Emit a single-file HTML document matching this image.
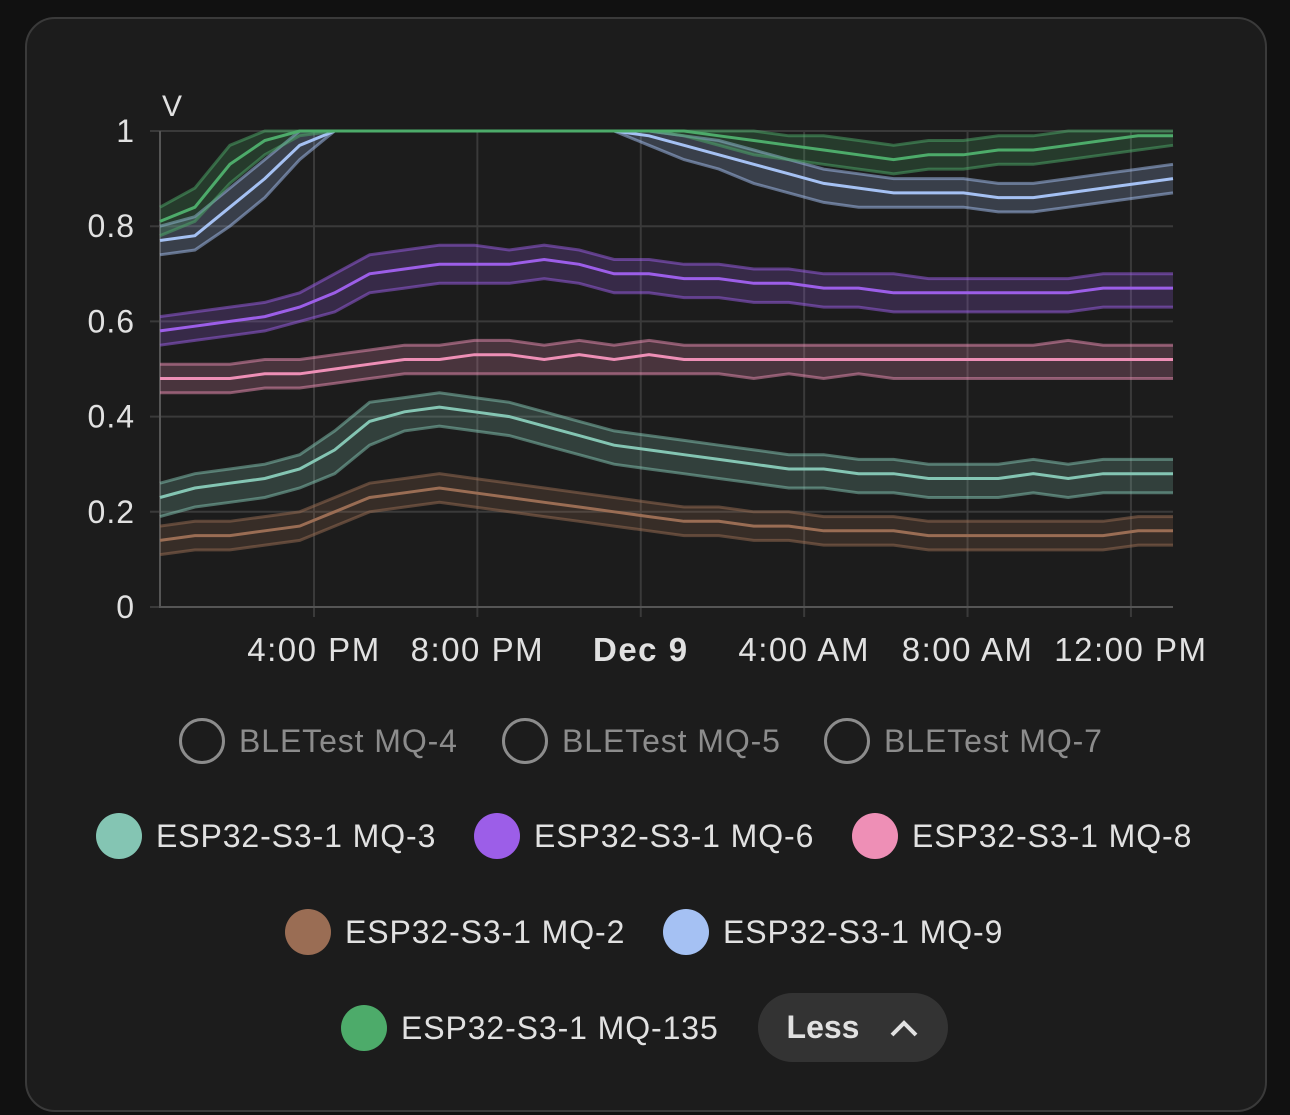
<!DOCTYPE html>
<html><head><meta charset="utf-8">
<style>
html,body{margin:0;padding:0;background:#111;width:1290px;height:1115px;overflow:hidden;font-family:"Liberation Sans",sans-serif;}
#card{position:absolute;left:25px;top:17px;width:1238px;height:1091px;border:2px solid #3a3a3a;border-radius:30px;background:#1c1c1c;}
svg{position:absolute;left:0;top:0;}
.leg{position:absolute;display:flex;align-items:center;font-size:32px;letter-spacing:0.9px;color:#e1e1e1;white-space:nowrap;}
.dot{width:46px;height:46px;border-radius:50%;margin-right:14px;box-sizing:border-box;}
.off{color:#8c8c8c}
.off .dot{border:3px solid #8c8c8c;background:transparent;margin-right:14px;}
#less{position:absolute;left:758px;top:993px;width:190px;height:69px;border-radius:35px;background:#333;color:#e1e1e1;font-size:32px;font-weight:bold;display:flex;align-items:center;justify-content:center;gap:30px;}
</style></head><body>
<div id="card"></div>
<svg id="chart" width="1290" height="1115"></svg>

<div class="leg off" style="left:179px;top:718px"><div class="dot"></div>BLETest MQ-4</div>
<div class="leg off" style="left:502px;top:718px"><div class="dot"></div>BLETest MQ-5</div>
<div class="leg off" style="left:824px;top:718px"><div class="dot"></div>BLETest MQ-7</div>
<div class="leg" style="left:96px;top:813px"><div class="dot" style="background:#84c5b3"></div>ESP32-S3-1 MQ-3</div>
<div class="leg" style="left:474px;top:813px"><div class="dot" style="background:#9c5ee8"></div>ESP32-S3-1 MQ-6</div>
<div class="leg" style="left:852px;top:813px"><div class="dot" style="background:#ee8fb6"></div>ESP32-S3-1 MQ-8</div>
<div class="leg" style="left:285px;top:909px"><div class="dot" style="background:#9a6d54"></div>ESP32-S3-1 MQ-2</div>
<div class="leg" style="left:663px;top:909px"><div class="dot" style="background:#a5c1f3"></div>ESP32-S3-1 MQ-9</div>
<div class="leg" style="left:341px;top:1005px"><div class="dot" style="background:#4dab6a"></div>ESP32-S3-1 MQ-135</div>
<div id="less"><span>Less</span><svg width="30" height="20" style="position:static"><path d="M3 17 L15 5 L27 17" stroke="#e1e1e1" stroke-width="4" fill="none"/></svg></div>

<script>
const startHour = 12.23, endHour = 37.03;
const yTicks = [0, 0.2, 0.4, 0.6, 0.8, 1];
const yTickLabels = ["0","0.2","0.4","0.6","0.8","1"];
const xTickHours = [16, 20, 24, 28, 32, 36];
const xTickLabels = ["4:00 PM","8:00 PM","Dec 9","4:00 AM","8:00 AM","12:00 PM"];

const mq3Mean = [0.23,0.25,0.26,0.27,0.29,0.33,0.39,0.41,0.42,0.41,0.40,0.38,0.36,0.34,0.33,0.32,0.31,0.30,0.29,0.29,0.28,0.28,0.27,0.27,0.27,0.28,0.27,0.28,0.28,0.28];
const mq3Lo   = [0.19,0.21,0.22,0.23,0.25,0.28,0.34,0.37,0.38,0.37,0.36,0.34,0.32,0.30,0.29,0.28,0.27,0.26,0.25,0.25,0.24,0.24,0.23,0.23,0.23,0.24,0.23,0.24,0.24,0.24];
const mq3Hi   = [0.26,0.28,0.29,0.30,0.32,0.37,0.43,0.44,0.45,0.44,0.43,0.41,0.39,0.37,0.36,0.35,0.34,0.33,0.32,0.32,0.31,0.31,0.30,0.30,0.30,0.31,0.30,0.31,0.31,0.31];
const mq2Mean = [0.14,0.15,0.15,0.16,0.17,0.20,0.23,0.24,0.25,0.24,0.23,0.22,0.21,0.20,0.19,0.18,0.18,0.17,0.17,0.16,0.16,0.16,0.15,0.15,0.15,0.15,0.15,0.15,0.16,0.16];
const mq2Lo   = [0.11,0.12,0.12,0.13,0.14,0.17,0.20,0.21,0.22,0.21,0.20,0.19,0.18,0.17,0.16,0.15,0.15,0.14,0.14,0.13,0.13,0.13,0.12,0.12,0.12,0.12,0.12,0.12,0.13,0.13];
const mq2Hi   = [0.17,0.18,0.18,0.19,0.20,0.23,0.26,0.27,0.28,0.27,0.26,0.25,0.24,0.23,0.22,0.21,0.21,0.20,0.20,0.19,0.19,0.19,0.18,0.18,0.18,0.18,0.18,0.18,0.19,0.19];
const mq8Mean = [0.48,0.48,0.48,0.49,0.49,0.50,0.51,0.52,0.52,0.53,0.53,0.52,0.53,0.52,0.53,0.52,0.52,0.52,0.52,0.52,0.52,0.52,0.52,0.52,0.52,0.52,0.52,0.52,0.52,0.52];
const mq8Lo   = [0.45,0.45,0.45,0.46,0.46,0.47,0.48,0.49,0.49,0.49,0.49,0.49,0.49,0.49,0.49,0.49,0.49,0.48,0.49,0.48,0.49,0.48,0.48,0.48,0.48,0.48,0.48,0.48,0.48,0.48];
const mq8Hi   = [0.51,0.51,0.51,0.52,0.52,0.53,0.54,0.55,0.55,0.56,0.56,0.55,0.56,0.55,0.56,0.55,0.55,0.55,0.55,0.55,0.55,0.55,0.55,0.55,0.55,0.55,0.56,0.55,0.55,0.55];
const mq6Mean = [0.58,0.59,0.60,0.61,0.63,0.66,0.70,0.71,0.72,0.72,0.72,0.73,0.72,0.70,0.70,0.69,0.69,0.68,0.68,0.67,0.67,0.66,0.66,0.66,0.66,0.66,0.66,0.67,0.67,0.67];
const mq6Lo   = [0.55,0.56,0.57,0.58,0.60,0.62,0.66,0.67,0.68,0.68,0.68,0.69,0.68,0.66,0.66,0.65,0.65,0.64,0.64,0.63,0.63,0.62,0.62,0.62,0.62,0.62,0.62,0.63,0.63,0.63];
const mq6Hi   = [0.61,0.62,0.63,0.64,0.66,0.70,0.74,0.75,0.76,0.76,0.75,0.76,0.75,0.73,0.73,0.72,0.72,0.71,0.71,0.70,0.70,0.70,0.69,0.69,0.69,0.69,0.69,0.70,0.70,0.70];
const mq9Mean = [0.77,0.78,0.84,0.90,0.97,1,1,1,1,1,1,1,1,1,0.99,0.97,0.95,0.93,0.91,0.89,0.88,0.87,0.87,0.87,0.86,0.86,0.87,0.88,0.89,0.90];
const mq9Lo   = [0.74,0.75,0.80,0.86,0.94,1,1,1,1,1,1,1,1,1,0.97,0.94,0.92,0.89,0.87,0.85,0.84,0.84,0.84,0.84,0.83,0.83,0.84,0.85,0.86,0.87];
const mq9Hi   = [0.80,0.82,0.88,0.94,1,1,1,1,1,1,1,1,1,1,1,0.99,0.98,0.96,0.94,0.92,0.91,0.90,0.90,0.90,0.89,0.89,0.90,0.91,0.92,0.93];
const mq135Mean = [0.81,0.84,0.93,0.98,1,1,1,1,1,1,1,1,1,1,1,1,0.99,0.98,0.97,0.96,0.95,0.94,0.95,0.95,0.96,0.96,0.97,0.98,0.99,0.99];
const mq135Lo   = [0.78,0.81,0.89,0.95,0.99,1,1,1,1,1,1,1,1,1,1,0.99,0.97,0.95,0.94,0.93,0.92,0.91,0.92,0.92,0.93,0.93,0.94,0.95,0.96,0.97];
const mq135Hi   = [0.84,0.88,0.97,1,1,1,1,1,1,1,1,1,1,1,1,1,1,1,0.99,0.99,0.98,0.97,0.98,0.98,0.99,0.99,1,1,1,1];

const series = [
  {name:"mq2", color:"#9a6d54", mean:mq2Mean, lo:mq2Lo, hi:mq2Hi},
  {name:"mq3", color:"#84c5b3", mean:mq3Mean, lo:mq3Lo, hi:mq3Hi},
  {name:"mq8", color:"#ee8fb6", mean:mq8Mean, lo:mq8Lo, hi:mq8Hi},
  {name:"mq6", color:"#9c5ee8", mean:mq6Mean, lo:mq6Lo, hi:mq6Hi},
  {name:"mq9", color:"#a5c1f3", mean:mq9Mean, lo:mq9Lo, hi:mq9Hi},
  {name:"mq135", color:"#4dab6a", mean:mq135Mean, lo:mq135Lo, hi:mq135Hi}
];

const X0=160, X1=1173, Y0=607, Y1=131;
const xScale = h => X0 + (h-startHour)/(endHour-startHour)*(X1-X0);
const yScale = v => Y0 - v*(Y0-Y1);
const NS="http://www.w3.org/2000/svg";
const svg=document.getElementById('chart');
function mk(tag, attrs){const e=document.createElementNS(NS,tag);for(const k in attrs)e.setAttribute(k,attrs[k]);svg.appendChild(e);return e;}

yTicks.forEach((v,i)=>{
  const l=mk('line',{x1:X0-10,x2:X1,y1:yScale(v),y2:yScale(v),stroke:'#3a3a3a','stroke-width':2});
  
  
  const t=mk('text',{x:135,y:yScale(v)+11,'text-anchor':'end','font-size':32,'letter-spacing':1,fill:'#e1e1e1','font-family':'Liberation Sans, sans-serif'});
  t.textContent=yTickLabels[i];
  
  
});
xTickHours.forEach((h,i)=>{
  const l=mk('line',{x1:xScale(h),x2:xScale(h),y1:Y1,y2:Y0+10,stroke:'#3a3a3a','stroke-width':2});
  
  
  const t=mk('text',{x:xScale(h),y:661,'text-anchor':'middle','font-size':33,'letter-spacing':1.5,fill:'#e1e1e1','font-family':'Liberation Sans, sans-serif','font-weight':xTickLabels[i]==='Dec 9'?'bold':'normal'});
  t.textContent=xTickLabels[i];
  
  
});
const ax=mk('path',{d:`M${X0} ${Y1} V${Y0} H${X1}`,stroke:'#555',fill:'none','stroke-width':2});


const unit=mk('text',{x:162,y:116,'font-size':30,fill:'#e1e1e1','font-family':'Liberation Sans, sans-serif'});
unit.textContent='V';



function pts(arr){const n=arr.length;return arr.map((v,i)=>[xScale(startHour+i*(endHour-startHour)/(n-1)),yScale(Math.min(v,1))]);}
function line(p){return 'M'+p.map(q=>q[0].toFixed(1)+' '+q[1].toFixed(1)).join(' L');}
series.forEach(s=>{
  const lo=pts(s.lo), hi=pts(s.hi), mn=pts(s.mean);
  const band=mk('path',{d:line(hi)+' L'+lo.slice().reverse().map(q=>q[0].toFixed(1)+' '+q[1].toFixed(1)).join(' L')+' Z',fill:s.color,'fill-opacity':0.22,stroke:'none'});
  
  
  const a=mk('path',{d:line(lo),stroke:s.color,'stroke-opacity':0.5,'stroke-width':3,fill:'none'});
  
  
  const b=mk('path',{d:line(hi),stroke:s.color,'stroke-opacity':0.5,'stroke-width':3,fill:'none'});
  
  
  const m=mk('path',{d:line(mn),stroke:s.color,'stroke-width':3,fill:'none'});
  
  
});
</script>
</body></html>
